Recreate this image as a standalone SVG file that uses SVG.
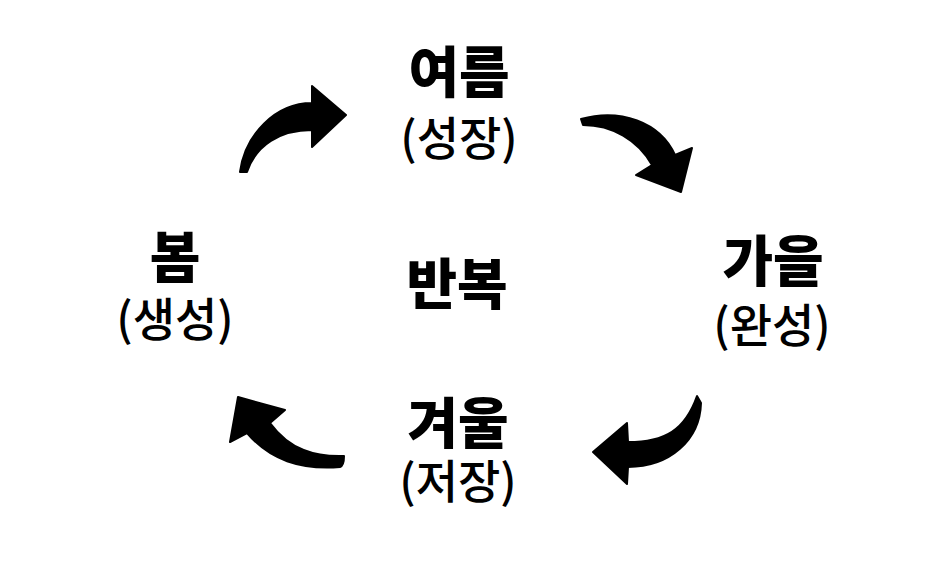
<svg xmlns="http://www.w3.org/2000/svg" width="936" height="569" viewBox="0 0 936 569">
<style>
.t{font-family:"Noto Sans CJK KR","Noto Sans",sans-serif;font-weight:900;font-size:55px;fill:#000;text-anchor:middle}
.s{font-family:"Noto Sans CJK KR","Noto Sans",sans-serif;font-weight:500;font-size:46px;fill:#000;text-anchor:middle}
.a{fill:#000;stroke:#000;stroke-width:2;stroke-linejoin:round}
</style>
<rect width="936" height="569" fill="#fff"/>
<g id="summer"><text class="t" x="459" y="92">여름</text><text class="s" x="459" y="155">(성장)</text></g>
<g id="autumn"><text class="t" x="773" y="281">가을</text><text class="s" x="772" y="342">(완성)</text></g>
<g id="winter"><text class="t" x="458" y="443">겨울</text><text class="s" x="458" y="498">(저장)</text></g>
<g id="spring"><text class="t" x="175" y="277">봄</text><text class="s" x="175" y="336">(생성)</text></g>
<g id="center"><text class="t" x="457" y="304">반복</text></g>
<g id="connectors">
<path class="a" d="M 240 172 C 245 135 275 103 312 103 L 312 86 L 346 115 L 312 147 L 312 130 C 280 130 256 145 247 172 Z"/>
<path class="a" d="M 581 119 C 620 108 660 122 675 155 L 692 148 L 681 192 L 636 175 L 652 165 C 638 140 612 125 583 125 Z"/>
<path class="a" d="M 697 396 C 685 430 665 442 628 442 L 627 423 L 593 452 L 627 484 L 628 467 C 670 467 700 440 701 403 Z"/>
<path class="a" d="M 238 397 L 285 410 L 270 423 C 290 450 315 457 344 456 C 344 462 343 466 340 467 C 300 470 270 460 247 433 L 230 442 Z"/>
</g>
</svg>
